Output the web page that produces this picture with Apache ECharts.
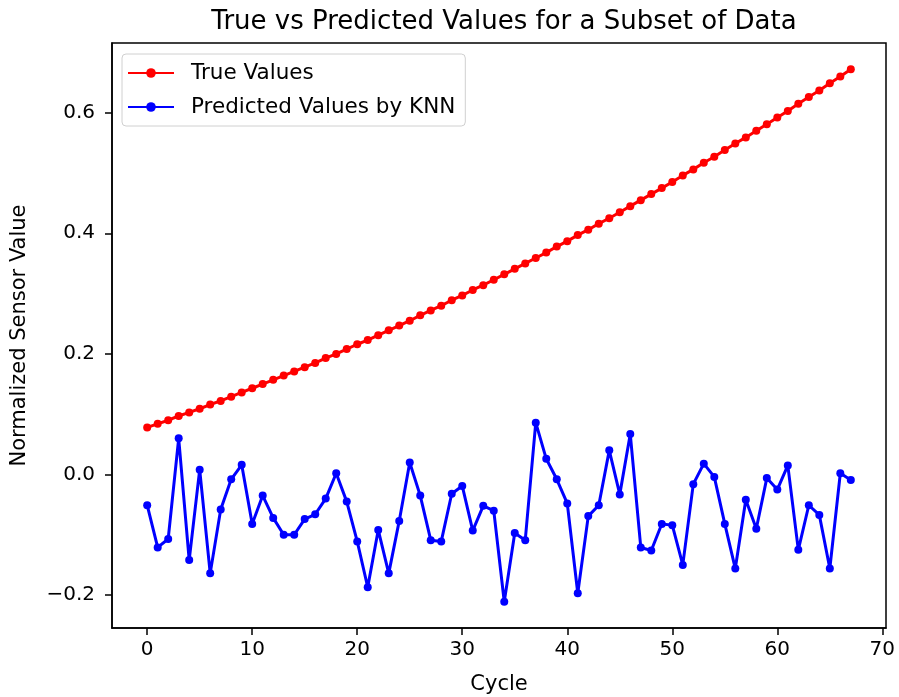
<!DOCTYPE html>
<html>
<head>
<meta charset="utf-8">
<script src="https://cdn.jsdelivr.net/npm/echarts@6/dist/echarts.min.js"></script>
<style>
  html, body { margin: 0; padding: 0; background: #fff; }
  #chart { width: 899px; height: 697px; }
</style>
</head>
<body>
<div id="chart"></div>
<script>
// 横轴: 周期编号 0..67
const cycles = [
  0, 1, 2, 3, 4, 5, 6, 7, 8, 9, 10, 11, 12, 13, 14, 15, 16, 17, 18, 19,
  20, 21, 22, 23, 24, 25, 26, 27, 28, 29, 30, 31, 32, 33, 34, 35, 36, 37, 38, 39,
  40, 41, 42, 43, 44, 45, 46, 47, 48, 49, 50, 51, 52, 53, 54, 55, 56, 57, 58, 59,
  60, 61, 62, 63, 64, 65, 66, 67
]

// 真实值 (红线)
const trueValues = [
  0.078, 0.084, 0.090, 0.097, 0.103, 0.109, 0.116, 0.122, 0.129, 0.136,
  0.143, 0.150, 0.157, 0.164, 0.171, 0.178, 0.185, 0.193, 0.200, 0.208,
  0.216, 0.223, 0.231, 0.239, 0.247, 0.255, 0.264, 0.272, 0.280, 0.289,
  0.297, 0.306, 0.314, 0.323, 0.332, 0.341, 0.350, 0.359, 0.368, 0.378,
  0.387, 0.397, 0.406, 0.416, 0.425, 0.435, 0.445, 0.455, 0.465, 0.475,
  0.485, 0.496, 0.506, 0.517, 0.527, 0.538, 0.549, 0.559, 0.570, 0.581,
  0.592, 0.603, 0.615, 0.626, 0.637, 0.649, 0.660, 0.672
]

// KNN 预测值 (蓝线)
const predValues = [
  -0.051, -0.121, -0.107, 0.060, -0.142, 0.008, -0.164, -0.058, -0.008, 0.016,
  -0.082, -0.035, -0.072, -0.100, -0.100, -0.074, -0.066, -0.040, 0.002, -0.045,
  -0.111, -0.187, -0.092, -0.164, -0.077, 0.020, -0.035, -0.109, -0.111, -0.032,
  -0.019, -0.093, -0.052, -0.060, -0.211, -0.097, -0.109, 0.086, 0.026, -0.008,
  -0.048, -0.197, -0.069, -0.051, 0.040, -0.033, 0.067, -0.121, -0.126, -0.082,
  -0.084, -0.150, -0.016, 0.018, -0.004, -0.082, -0.156, -0.042, -0.090, -0.006,
  -0.025, 0.015, -0.125, -0.051, -0.067, -0.156, 0.002, -0.009
]

// 刻度
const xTicks = [0, 10, 20, 30, 40, 50, 60, 70]
const yTicks = [-0.2, 0.0, 0.2, 0.4, 0.6]

const font = 'DejaVu Sans'

const myChart = echarts.init(document.getElementById('chart'), null, { renderer: 'canvas' })

const options = {
  animation: false,
  backgroundColor: '#fff',
  title: {
    text: 'True vs Predicted Values for a Subset of Data',
    left: 499,
    textAlign: 'center',
    top: 4,
    textStyle: { fontFamily: font, fontSize: 26, fontWeight: 'normal', color: '#000' },
  },
  legend: {
    orient: 'vertical',
    left: 122,
    top: 54,
    padding: [8, 10, 8, 5],
    itemWidth: 46,
    itemHeight: 12,
    itemGap: 12,
    borderColor: '#d0d0d0',
    borderWidth: 1,
    borderRadius: 4,
    textStyle: { fontFamily: font, fontSize: 21.5, color: '#000', padding: [0, 0, 0, 12] },
    data: ['True Values', 'Predicted Values by KNN'],
  },
  grid: {
    left: 112,
    right: 13,
    top: 43,
    bottom: 69,
    outerBoundsMode: 'none',
    show: true,
    borderColor: '#000',
    borderWidth: 1.5,
  },
  xAxis: {
    type: 'value',
    min: -3.35,
    max: 70.35,
    name: 'Cycle',
    nameLocation: 'middle',
    nameGap: 46,
    nameTextStyle: { fontFamily: font, fontSize: 21, color: '#000' },
    splitLine: { show: false },
    axisLine: { show: true, onZero: false, lineStyle: { color: '#000', width: 1.5 } },
    axisTick: { show: true, length: 7, customValues: xTicks, lineStyle: { color: '#000', width: 1.5 } },
    axisLabel: {
      customValues: xTicks,
      margin: 12,
      fontFamily: font,
      fontSize: 20,
      color: '#000',
    },
  },
  yAxis: {
    type: 'value',
    min: -0.2546,
    max: 0.7156,
    name: 'Normalized Sensor Value',
    nameLocation: 'middle',
    nameGap: 82,
    nameTextStyle: { fontFamily: font, fontSize: 21, color: '#000' },
    splitLine: { show: false },
    axisLine: { show: true, onZero: false, lineStyle: { color: '#000', width: 1.5 } },
    axisTick: { show: true, length: 7, customValues: yTicks, lineStyle: { color: '#000', width: 1.5 } },
    axisLabel: {
      customValues: yTicks,
      margin: 17,
      fontFamily: font,
      fontSize: 20,
      color: '#000',
      formatter: (v) => v.toFixed(1).replace('-', '\u2212'),
    },
  },
  series: [
    {
      name: 'True Values',
      type: 'line',
      data: cycles.map((c, i) => [c, trueValues[i]]),
      symbol: 'circle',
      symbolSize: 8,
      showAllSymbol: true,
      lineStyle: { color: '#ff0000', width: 3 },
      itemStyle: { color: '#ff0000' },
      z: 3,
    },
    {
      name: 'Predicted Values by KNN',
      type: 'line',
      data: cycles.map((c, i) => [c, predValues[i]]),
      symbol: 'circle',
      symbolSize: 8,
      showAllSymbol: true,
      lineStyle: { color: '#0000ff', width: 3 },
      itemStyle: { color: '#0000ff' },
      z: 3,
    },
  ],
}

myChart.setOption(options)
</script>
</body>
</html>
